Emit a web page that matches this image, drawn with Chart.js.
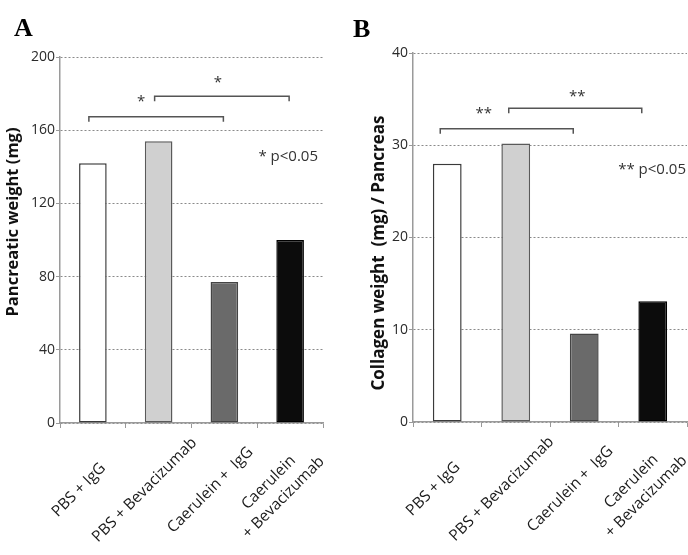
<!DOCTYPE html>
<html>
<head>
<meta charset="utf-8">
<script src="https://cdn.jsdelivr.net/npm/chart.js@4/dist/chart.umd.min.js"></script>
<style>
  body { margin: 0; background: #fff; }
  #wrap { position: relative; width: 688px; height: 555px; overflow: hidden; }
  .panel { position: absolute; top: 0; width: 344px; height: 555px; }
  .tag { position: absolute; font: bold 26px "Liberation Serif", serif; color: #000; }
</style>
</head>
<body>
<div id="wrap">
  <div class="panel" style="left:0"><canvas id="chartA" width="344" height="555"></canvas></div>
  <div class="panel" style="left:344px"><canvas id="chartB" width="344" height="555"></canvas></div>
  <div class="tag" style="left:14px; top:13px">A</div>
  <div class="tag" style="left:353px; top:14px">B</div>
</div>
<script>
// categories and values
const categories = ['PBS + IgG', 'PBS + Bevacizumab', 'Caerulein +  IgG', ['Caerulein', '+ Bevacizumab']];
const pancreaticWeight = [142, 154, 77, 100];
const collagenWeight = [28, 30.2, 9.6, 13.1];
const yTicksA = [0, 40, 80, 120, 160, 200];
const yTicksB = [0, 10, 20, 30, 40];

// significance brackets (category pairs + level in data units)
const sigPairs = [[0, 2], [1, 3]];
const sigLevelsA = [167.3, 178.6];
const sigLevelsB = [31.8, 34.0];

const barFill = ['#ffffff', '#d0d0d0', '#6a6a6a', '#0c0c0c'];
const barEdge = ['#3a3a3a', '#5a5a5a', '#444444', '#000000'];
const FONT = '"Open Sans", "DejaVu Sans", sans-serif';

Chart.defaults.font.family = FONT;
Chart.defaults.color = '#262626';

// rotated, centred category labels under the x axis
const xLabels = {
  id: 'xLabels',
  afterDraw(chart) {
    const xs = chart.scales.x, ctx = chart.ctx;
    ctx.save();
    ctx.font = '15.5px ' + FONT;
    ctx.fillStyle = '#1a1a1a';
    ctx.textAlign = 'center';
    ctx.textBaseline = 'middle';
    categories.forEach((lab, i) => {
      const lines = Array.isArray(lab) ? lab : [lab];
      ctx.save();
      ctx.translate(xs.getPixelForValue(i) - 14, xs.top + 67);
      ctx.rotate(-Math.PI / 4);
      lines.forEach((ln, j) => ctx.fillText(ln, 0, (j - (lines.length - 1) / 2) * 21));
      ctx.restore();
    });
    ctx.restore();
  }
};

// vertical axis title, placed by hand like the original
const yTitle = {
  id: 'yTitle',
  afterDraw(chart, args, o) {
    const ctx = chart.ctx;
    ctx.save();
    ctx.font = 'bold ' + o.size + 'px ' + FONT;
    ctx.fillStyle = '#111';
    ctx.textAlign = 'center';
    ctx.textBaseline = 'middle';
    ctx.translate(o.x, o.y);
    ctx.rotate(-Math.PI / 2);
    ctx.fillText(o.text, 0, 0);
    ctx.restore();
  }
};

// brackets, stars and the p-value note
const sigMarks = {
  id: 'sigMarks',
  afterDatasetsDraw(chart, args, o) {
    const xs = chart.scales.x, ys = chart.scales.y, ctx = chart.ctx;
    ctx.save();
    ctx.strokeStyle = '#555';
    ctx.lineWidth = 1.5;
    ctx.fillStyle = '#333';
    ctx.font = '15px ' + FONT;
    ctx.textAlign = 'center';
    ctx.textBaseline = 'middle';
    sigPairs.forEach((p, k) => {
      const x1 = xs.getPixelForValue(p[0]) + o.shift[0];
      const x2 = xs.getPixelForValue(p[1]) + o.shift[1];
      const y = ys.getPixelForValue(o.levels[k]);
      ctx.beginPath();
      ctx.moveTo(x1, y + 5);
      ctx.lineTo(x1, y);
      ctx.lineTo(x2, y);
      ctx.lineTo(x2, y + 5);
      ctx.stroke();
      ctx.fillText(o.mark, (x1 + x2) / 2 + o.starDx[k], y - o.starDy[k]);
    });
    ctx.textAlign = 'right';
    ctx.fillText(o.mark + ' p<0.05', chart.chartArea.right - o.noteRight, ys.getPixelForValue(o.noteLevel));
    ctx.restore();
  }
};

function makeChart(id, values, ticks, o) {
  return new Chart(document.getElementById(id), {
    type: 'bar',
    data: {
      labels: categories,
      datasets: [{
        data: values,
        backgroundColor: barFill,
        borderColor: barEdge,
        borderWidth: 1.5,
        borderSkipped: false,
        categoryPercentage: 1,
        barPercentage: 0.42
      }]
    },
    options: {
      responsive: false,
      animation: false,
      devicePixelRatio: 1,
      layout: { padding: { top: o.top, right: o.right, left: 0, bottom: 0 } },
      plugins: {
        legend: { display: false },
        tooltip: { enabled: false },
        sigMarks: o.sig,
        yTitle: o.title
      },
      scales: {
        x: {
          grid: { display: true, drawOnChartArea: false, drawTicks: true, tickLength: 5, color: '#999', offset: true },
          border: { display: true, color: '#9a9a9a', width: 1.5 },
          ticks: { display: false },
          afterFit: s => { s.height = 555 - o.bottom; }
        },
        y: {
          min: ticks[0],
          max: ticks[ticks.length - 1],
          ticks: { stepSize: ticks[1] - ticks[0], font: { size: 14 }, color: '#2a2a2a', padding: 1 },
          grid: { color: '#8a8a8a', lineWidth: 1, tickLength: 4, tickColor: '#9a9a9a', tickBorderDash: [] },
          border: { display: true, color: '#9a9a9a', width: 1.5, dash: [2, 2] },
          afterFit: s => { s.width = o.left; }
        }
      }
    },
    plugins: [xLabels, yTitle, sigMarks]
  });
}

makeChart('chartA', pancreaticWeight, yTicksA, {
  top: 57, right: 21, left: 60, bottom: 423,
  title: { text: 'Pancreatic weight (mg)', size: 16.5, x: 13, y: 222 },
  sig: { levels: sigLevelsA, shift: [-4, -1], mark: '*', starDx: [-15, -4], starDy: [15, 13], noteRight: 5, noteLevel: 145.3 }
});
makeChart('chartB', collagenWeight, yTicksB, {
  top: 53, right: 1, left: 69, bottom: 422,
  title: { text: 'Collagen weight  (mg) / Pancreas', size: 17, x: 35, y: 253 },
  sig: { levels: sigLevelsB, shift: [-7, -11], mark: '**', starDx: [-23, 2], starDy: [15, 12], noteRight: 1, noteLevel: 27.3 }
});
</script>
</body>
</html>
